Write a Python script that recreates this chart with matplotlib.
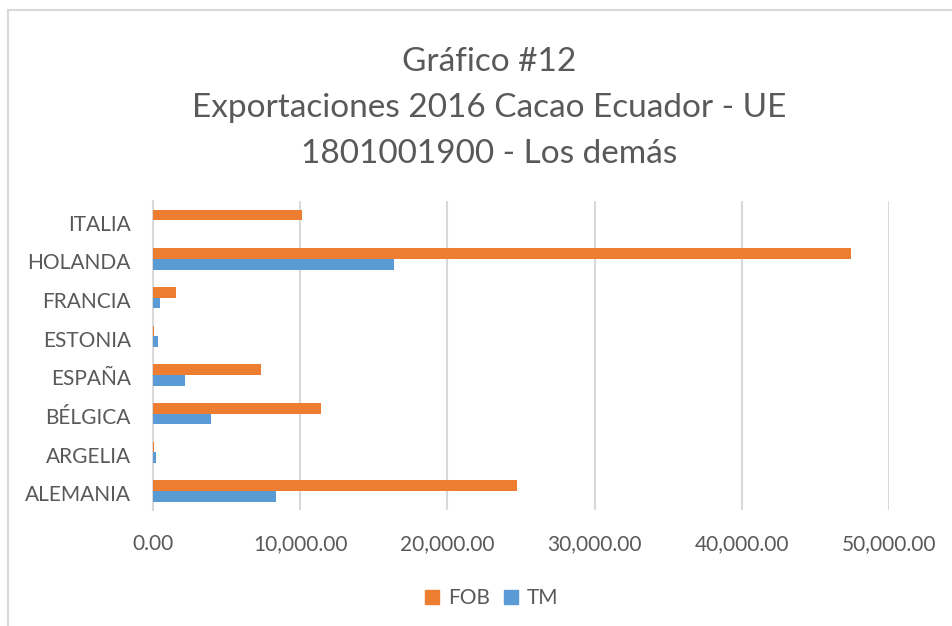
import matplotlib
matplotlib.use("Agg")
import matplotlib.pyplot as plt
import matplotlib.transforms as mtransforms
import numpy as np
from matplotlib.lines import Line2D

categories = ["ALEMANIA", "ARGELIA", "BÉLGICA", "ESPAÑA", "ESTONIA", "FRANCIA", "HOLANDA", "ITALIA"]
fob = [24740, 100, 11410, 7330, 100, 1540, 47400, 10110]
tm = [8350, 180, 3925, 2160, 320, 455, 16370, 0]
series_names = ["FOB", "TM"]
xticks = [0, 10000, 20000, 30000, 40000, 50000]
title_lines = ["Gráfico #12", "Exportaciones 2016 Cacao Ecuador - UE", "1801001900 - Los demás"]

plt.rcParams['font.family'] = ['Lato', 'DejaVu Sans']
txt = '#595959'
orange = '#ED7D31'
blue = '#5B9BD5'

fig = plt.figure(figsize=(9.53, 6.26), dpi=100)
ax = fig.add_axes([153/953, 1-510.3/626, 736/953, 309.3/626])

y = np.arange(len(categories))
h = 0.275
ax.barh(y + h/2, fob, height=h, color=orange, label=series_names[0], zorder=3)
ax.barh(y - h/2, tm, height=h, color=blue, label=series_names[1], zorder=3)

ax.set_xlim(0, 50000)
ax.set_ylim(-0.5, len(categories) - 0.5)
ax.set_yticks(y)
ax.set_yticklabels(categories)
ax.set_xticks(xticks)
ax.set_xticklabels([f"{v:,.2f}" for v in xticks])
ax.tick_params(axis='both', length=0, labelsize=15, colors=txt)
ax.tick_params(axis='x', pad=17)
ax.tick_params(axis='y', pad=16)
offset = mtransforms.ScaledTranslation(0, -2.5/100, fig.dpi_scale_trans)
for lab in ax.get_yticklabels():
    lab.set_transform(lab.get_transform() + offset)
ax.grid(axis='x', color='#D9D9D9', linewidth=1.5, zorder=0)
for s in ['top', 'right', 'bottom']:
    ax.spines[s].set_visible(False)
ax.spines['left'].set_color('#D9D9D9')
ax.spines['left'].set_linewidth(1.5)

for i, line in enumerate(title_lines):
    fig.text(489/953, 1-(62 + 46*i)/626, line, ha='center', va='center', fontsize=24, color=txt)

handles = [Line2D([], [], marker='s', linestyle='none', markersize=10, color=orange),
           Line2D([], [], marker='s', linestyle='none', markersize=10, color=blue)]
fig.legend(handles, series_names, loc='center', bbox_to_anchor=(490/953, 1-598/626), ncol=2,
           frameon=False, fontsize=15, labelcolor=txt, handletextpad=0.25, columnspacing=0.5,
           handlelength=1.0)

# outer chart border
fig.add_artist(Line2D([8/953, 952/953], [1-10/626, 1-10/626], color='#D9D9D9', linewidth=1.5))
fig.add_artist(Line2D([8/953, 8/953], [0, 1-10/626], color='#D9D9D9', linewidth=1.5))

fig.savefig("out.png", dpi=100)
